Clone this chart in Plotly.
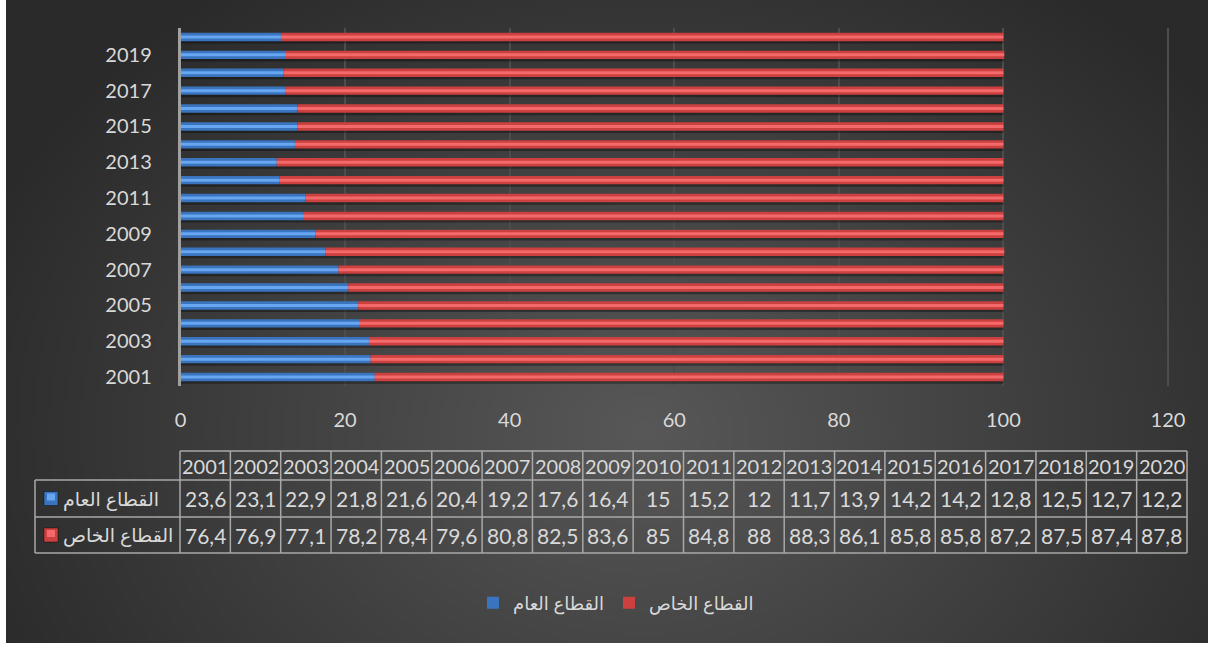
import base64
import struct
import zlib

import numpy as np
import plotly.graph_objects as go

# ---- data -------------------------------------------------------------
years = list(range(2001, 2021))
public_sector = [23.6, 23.1, 22.9, 21.8, 21.6, 20.4, 19.2, 17.6, 16.4, 15,
                 15.2, 12, 11.7, 13.9, 14.2, 14.2, 12.8, 12.5, 12.7, 12.2]
private_sector = [76.4, 76.9, 77.1, 78.2, 78.4, 79.6, 80.8, 82.5, 83.6, 85,
                  84.8, 88, 88.3, 86.1, 85.8, 85.8, 87.2, 87.5, 87.4, 87.8]
name_public = "القطاع العام"
name_private = "القطاع الخاص"

W, H = 1208, 645
FONT = "Lato, 'DejaVu Sans', sans-serif"
TXT = "#d9d9d9"

BLUE, BLUE_HI = "#3a74bf", "#67a6f0"
RED, RED_HI = "#cc4040", "#f46a6a"


def px(x):
    return x / W


def py(y):
    return 1 - y / H


# ---- radial background as an embedded PNG ------------------------------
def png_data_uri(rgb):
    h, w, _ = rgb.shape
    raw = b"".join(b"\x00" + rgb[r].tobytes() for r in range(h))

    def chunk(tag, data):
        c = struct.pack(">I", len(data)) + tag + data
        return c + struct.pack(">I", zlib.crc32(tag + data) & 0xFFFFFFFF)

    png = b"\x89PNG\r\n\x1a\n"
    png += chunk(b"IHDR", struct.pack(">IIBBBBB", w, h, 8, 2, 0, 0, 0))
    png += chunk(b"IDAT", zlib.compress(raw, 9))
    png += chunk(b"IEND", b"")
    return "data:image/png;base64," + base64.b64encode(png).decode()


scale = 4
gw, gh = (W - 6) // scale, H // scale
gx, gy = np.meshgrid(np.arange(gw) * scale + 6, np.arange(gh) * scale)
d = np.sqrt(((gx - 640) / 720.0) ** 2 + ((gy - 430) / 560.0) ** 2)
val = 42 + 46 * (1 - np.clip(d, 0, 1))
img = np.repeat(val[:, :, None], 3, axis=2).astype(np.uint8)
bg_uri = png_data_uri(img)

# ---- bars -------------------------------------------------------------
fig = go.Figure()
totals = [a + b for a, b in zip(public_sector, private_sector)]
BW, HW = 0.47, 0.17

# soft drop shadow under every bar
fig.add_trace(go.Bar(y=years, x=totals, base=0, orientation="h", width=BW,
                     offset=-0.37, marker=dict(color="rgba(0,0,0,0.35)", line_width=0),
                     showlegend=False, hoverinfo="skip"))

fig.add_trace(go.Bar(y=years, x=public_sector, base=0, orientation="h", width=BW,
                     name=name_public, marker=dict(color=BLUE, line_width=0)))
fig.add_trace(go.Bar(y=years, x=private_sector, base=public_sector, orientation="h",
                     width=BW, name=name_private, marker=dict(color=RED, line_width=0)))
# bevel highlight along the middle of each bar
fig.add_trace(go.Bar(y=years, x=public_sector, base=0, orientation="h", width=HW,
                     marker=dict(color=BLUE_HI, line_width=0), showlegend=False,
                     hoverinfo="skip"))
fig.add_trace(go.Bar(y=years, x=private_sector, base=public_sector, orientation="h",
                     width=HW, marker=dict(color=RED_HI, line_width=0),
                     showlegend=False, hoverinfo="skip"))

# ---- data table under the chart ---------------------------------------
shapes = []
annotations = []
line = dict(color="#a8a8a8", width=1.5)
col0, colw = 180.0, 50.35
x_left, x_right = 35.0, col0 + colw * len(years)
row_edges = [451, 480, 517, 553]

shapes.append(dict(type="line", xref="paper", yref="paper", x0=px(col0), x1=px(x_right),
                   y0=py(row_edges[0]), y1=py(row_edges[0]), line=line))
for ry in row_edges[1:]:
    shapes.append(dict(type="line", xref="paper", yref="paper", x0=px(x_left),
                       x1=px(x_right), y0=py(ry), y1=py(ry), line=line))
shapes.append(dict(type="line", xref="paper", yref="paper", x0=px(x_left), x1=px(x_left),
                   y0=py(row_edges[1]), y1=py(row_edges[3]), line=line))
for i in range(len(years) + 1):
    cx = col0 + i * colw
    shapes.append(dict(type="line", xref="paper", yref="paper", x0=px(cx), x1=px(cx),
                       y0=py(row_edges[0]), y1=py(row_edges[3]), line=line))


def fmt(v):
    s = f"{v:g}"
    return s.replace(".", ",")


row_centers = [(row_edges[k] + row_edges[k + 1]) / 2 for k in range(3)]
for i, yr in enumerate(years):
    cx = px(col0 + (i + 0.5) * colw)
    for k, txt in enumerate([str(yr), fmt(public_sector[i]), fmt(private_sector[i])]):
        annotations.append(dict(x=cx, y=py(row_centers[k]), xref="paper", yref="paper",
                                text=txt, showarrow=False, xanchor="center",
                                yanchor="middle",
                                font=dict(family=FONT, size=20 if k == 0 else 21, color=TXT)))

for k, (label, col, hi) in enumerate([(name_public, BLUE, BLUE_HI),
                                      (name_private, RED, RED_HI)]):
    cy = row_centers[k + 1]
    shapes.append(dict(type="rect", xref="paper", yref="paper", x0=px(44), x1=px(58),
                       y0=py(cy + 7), y1=py(cy - 7), fillcolor=col,
                       line=dict(color="rgba(0,0,0,0.4)", width=1)))
    shapes.append(dict(type="rect", xref="paper", yref="paper", x0=px(47), x1=px(55),
                       y0=py(cy + 2), y1=py(cy - 5), fillcolor=hi, line_width=0))
    annotations.append(dict(x=px(61), y=py(cy), xref="paper", yref="paper", text=label,
                            showarrow=False, xanchor="left", yanchor="middle",
                            font=dict(family=FONT, size=19, color=TXT)))

# x scale: 0 sits at 180.5 px and 120 at 1168 px; the range runs a little past 120
# so the last gridline is not clipped at the plot edge
X0_PX, X120_PX, X_MAX = 180.5, 1168.0, 120.3
x_end_px = X0_PX + (X120_PX - X0_PX) * X_MAX / 120

# ---- layout -----------------------------------------------------------
fig.update_layout(
    width=W, height=H,
    margin=dict(l=0, r=0, t=0, b=0, pad=0, autoexpand=False),
    paper_bgcolor="white",
    plot_bgcolor="rgba(0,0,0,0)",
    barmode="overlay",
    images=[dict(source=bg_uri, xref="paper", yref="paper", x=px(6), y=1,
                 sizex=1 - px(6), sizey=1 - 2 / H, sizing="stretch", layer="below",
                 xanchor="left", yanchor="top")],
    shapes=shapes,
    annotations=annotations,
    xaxis=dict(domain=[px(X0_PX), px(x_end_px)], range=[0, X_MAX], dtick=20, tick0=0,
               showgrid=True, gridcolor="#4d4d4d", gridwidth=1.5, zeroline=False,
               showline=False, ticks="", ticklabelstandoff=20, automargin=False,
               tickfont=dict(family=FONT, size=20, color=TXT)),
    yaxis=dict(domain=[py(386), py(28)], range=[2000.5, 2020.5], tick0=2001, dtick=2,
               showgrid=False, zeroline=False, showline=True, linecolor="#a0a0a0",
               linewidth=2.5, ticks="", ticklabelstandoff=22, automargin=False,
               tickfont=dict(family=FONT, size=20, color=TXT)),
    legend=dict(orientation="h", x=px(616), xanchor="center", y=py(603),
                yanchor="middle", bgcolor="rgba(0,0,0,0)", traceorder="normal",
                font=dict(family=FONT, size=18, color=TXT)),
    showlegend=True,
)

fig.write_html("out.html")
